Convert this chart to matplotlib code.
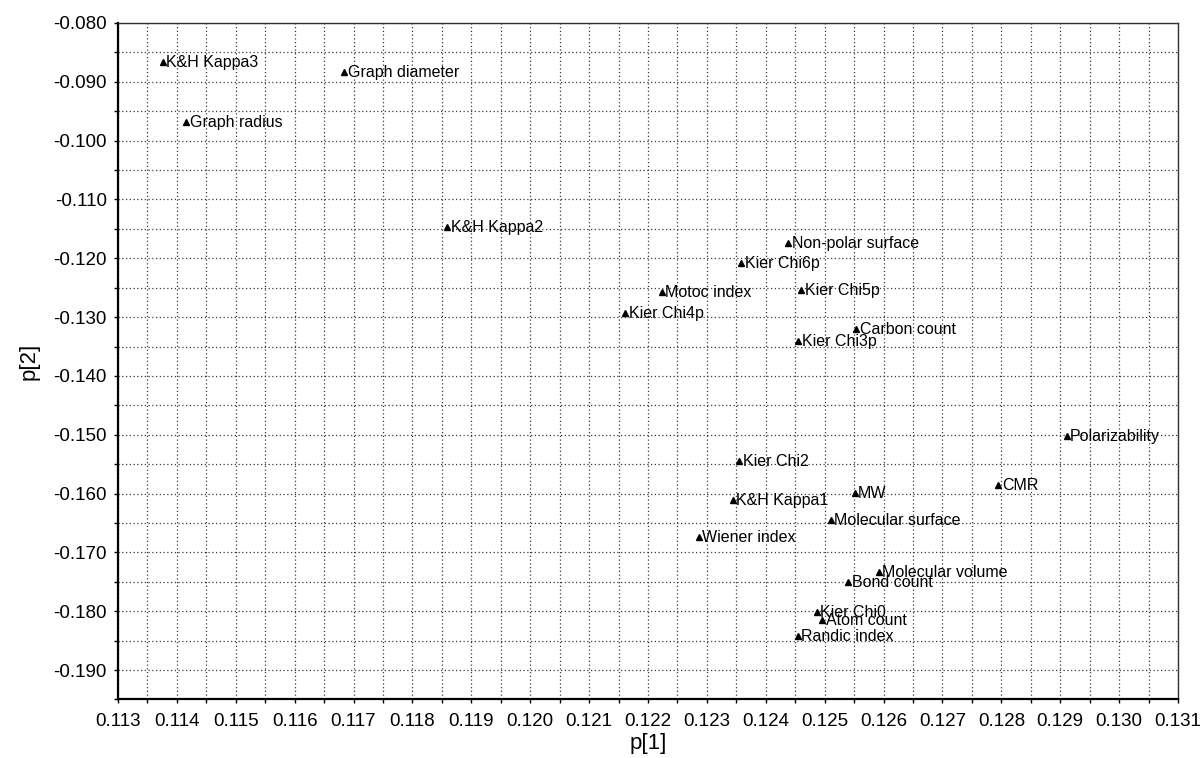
import matplotlib.pyplot as plt
from matplotlib.ticker import MultipleLocator, FormatStrFormatter

plt.rcParams['font.family'] = ['Liberation Sans', 'DejaVu Sans']

names = ['K&H Kappa3', 'Graph diameter', 'Graph radius', 'K&H Kappa2',
         'Non-polar surface', 'Kier Chi6p', 'Motoc index', 'Kier Chi5p',
         'Kier Chi4p', 'Carbon count', 'Kier Chi3p', 'Polarizability',
         'Kier Chi2', 'CMR', 'MW', 'K&H Kappa1', 'Molecular surface',
         'Wiener index', 'Molecular volume', 'Bond count', 'Kier Chi0',
         'Atom count', 'Randic index']
p1 = [0.11376, 0.11684, 0.11416, 0.11859,
      0.12438, 0.12358, 0.12223, 0.12460,
      0.12161, 0.12554, 0.12455, 0.12911,
      0.12355, 0.12795, 0.12551, 0.12344, 0.12510,
      0.12286, 0.12592, 0.12540, 0.12487,
      0.12496, 0.12454]
p2 = [-0.08660, -0.08830, -0.09685, -0.11461,
      -0.11743, -0.12083, -0.12577, -0.12537,
      -0.12923, -0.13206, -0.13405, -0.15015,
      -0.15451, -0.15854, -0.15985, -0.16109, -0.16449,
      -0.16743, -0.17328, -0.17498, -0.18009,
      -0.18150, -0.18422]

fig = plt.figure(figsize=(12.03, 7.58), dpi=100)
ax = fig.add_axes([0.0981, 0.0772, 0.8811, 0.8925])

ax.plot(p1, p2, linestyle='none', marker='^', markersize=4.5,
        color='black', zorder=3)
for n, a, b in zip(names, p1, p2):
    ax.annotate(n, (a, b), xytext=(2.5, -0.5), textcoords='offset points',
                ha='left', va='center', fontsize=11.5, zorder=4)

ax.set_xlim(0.113, 0.131)
ax.set_ylim(-0.195, -0.080)
ax.xaxis.set_major_locator(MultipleLocator(0.001))
ax.xaxis.set_minor_locator(MultipleLocator(0.0005))
ax.yaxis.set_major_locator(MultipleLocator(0.010))
ax.yaxis.set_minor_locator(MultipleLocator(0.005))
ax.xaxis.set_major_formatter(FormatStrFormatter('%.3f'))
ax.yaxis.set_major_formatter(FormatStrFormatter('%.3f'))

# dotted grid on both major and minor steps
ax.grid(which='both', color='#3a3a3a', linestyle=(0, (1, 2)), linewidth=0.9)
ax.set_axisbelow(True)

ax.tick_params(which='both', direction='out', length=3, width=1,
               labelsize=13.5, colors='black')
ax.tick_params(axis='x', pad=7)
ax.tick_params(axis='y', pad=5)

for s in ['left', 'bottom']:
    ax.spines[s].set_linewidth(1.6)
    ax.spines[s].set_color('black')
for s in ['top', 'right']:
    ax.spines[s].set_linewidth(1.0)
    ax.spines[s].set_color('#333333')

ax.set_xlabel('p[1]', fontsize=16, labelpad=2)
ax.set_ylabel('p[2]', fontsize=16, labelpad=10)

plt.savefig('out.png', dpi=100)
